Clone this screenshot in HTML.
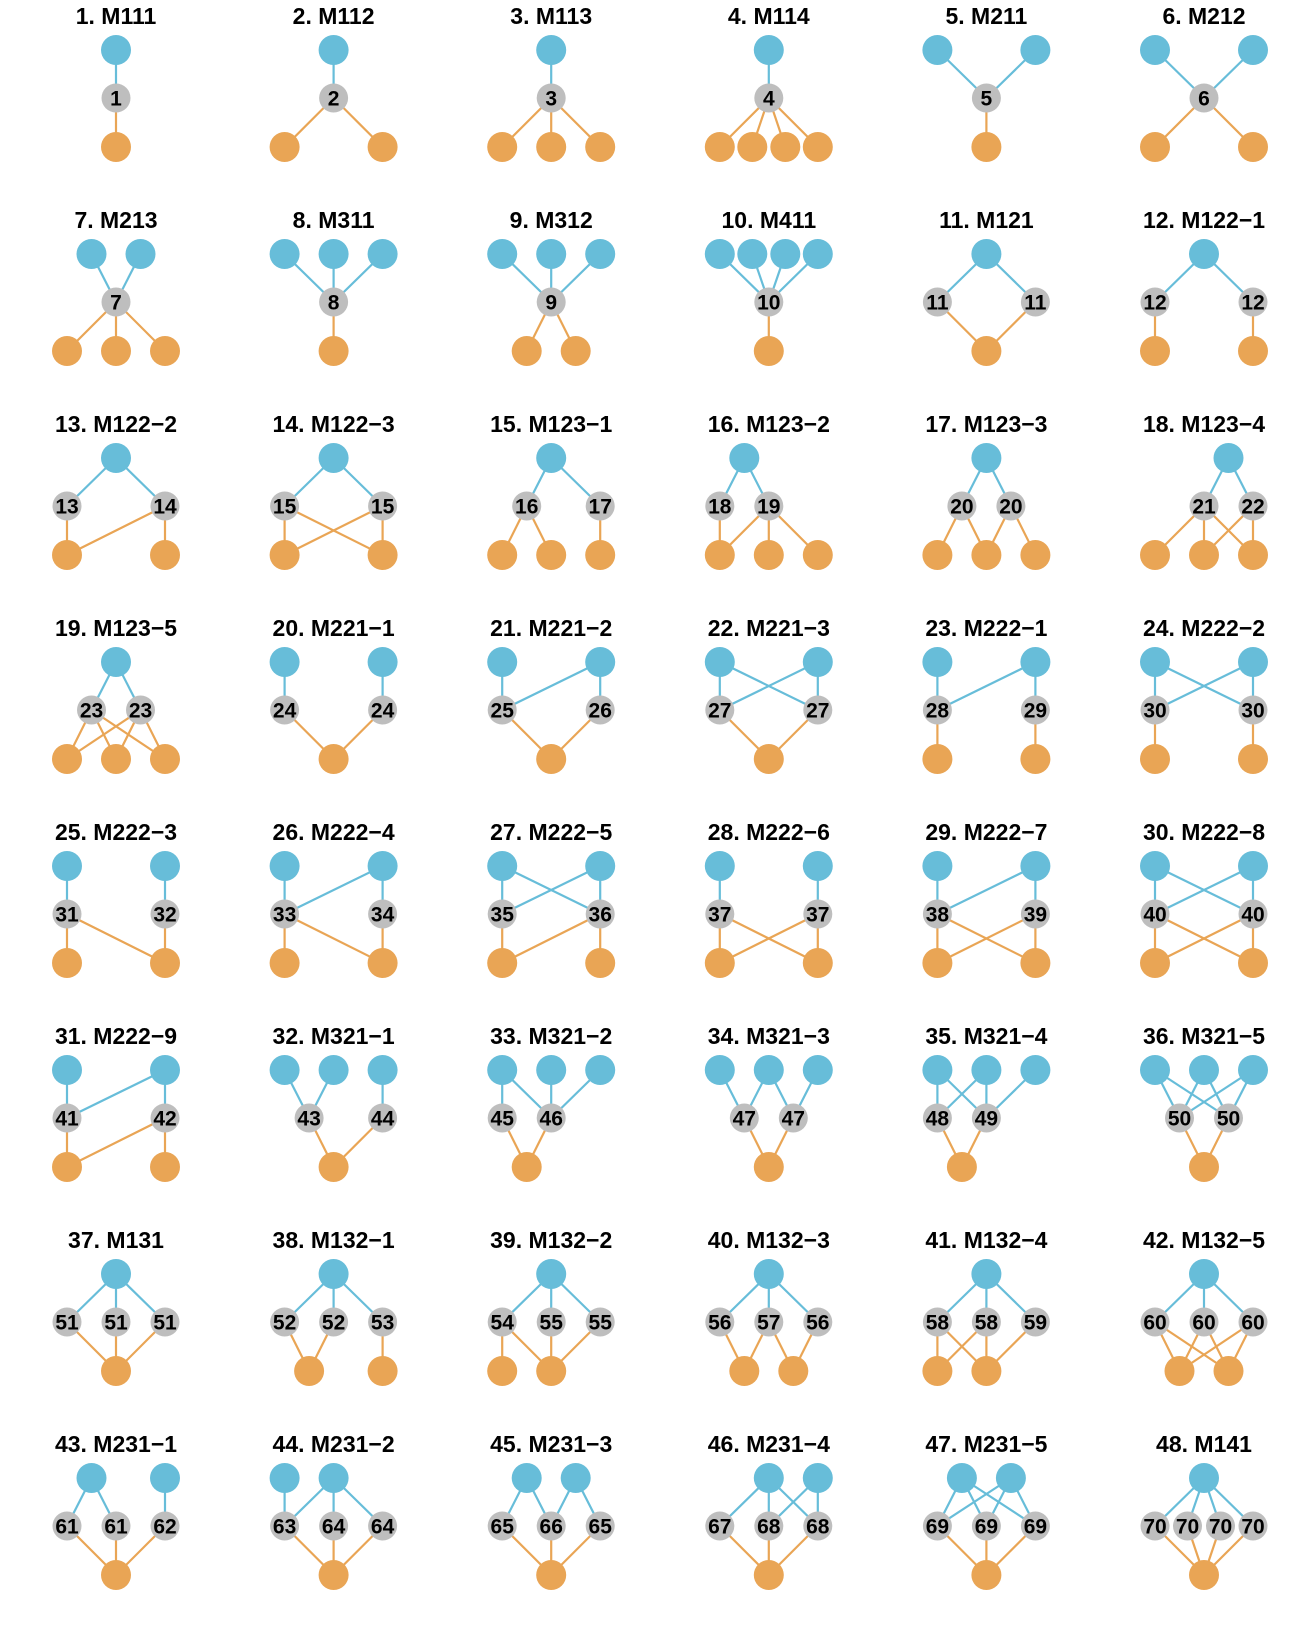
<!DOCTYPE html>
<html><head><meta charset="utf-8"><style>
html,body{margin:0;padding:0;background:#fff}
svg{display:block}
.t{font:bold 23px "Liberation Sans",sans-serif;text-anchor:middle;fill:#000}
.l{font:bold 21px "Liberation Sans",sans-serif;text-anchor:middle;fill:#000}
</style></head><body>
<svg id="s" width="1306" height="1633" viewBox="0 0 1306 1633" xmlns="http://www.w3.org/2000/svg">
<g id="shapes"></g>
<g id="txt">
<g transform="translate(116,0)"><text class="t" y="24">1. M111</text><text class="l" x="0" y="105.5">1</text></g>
<g transform="translate(333.6,0)"><text class="t" y="24">2. M112</text><text class="l" x="0" y="105.5">2</text></g>
<g transform="translate(551.2,0)"><text class="t" y="24">3. M113</text><text class="l" x="0" y="105.5">3</text></g>
<g transform="translate(768.8,0)"><text class="t" y="24">4. M114</text><text class="l" x="0" y="105.5">4</text></g>
<g transform="translate(986.4,0)"><text class="t" y="24">5. M211</text><text class="l" x="0" y="105.5">5</text></g>
<g transform="translate(1204,0)"><text class="t" y="24">6. M212</text><text class="l" x="0" y="105.5">6</text></g>

<g transform="translate(116,204)"><text class="t" y="24">7. M213</text><text class="l" x="0" y="105.5">7</text></g>
<g transform="translate(333.6,204)"><text class="t" y="24">8. M311</text><text class="l" x="0" y="105.5">8</text></g>
<g transform="translate(551.2,204)"><text class="t" y="24">9. M312</text><text class="l" x="0" y="105.5">9</text></g>
<g transform="translate(768.8,204)"><text class="t" y="24">10. M411</text><text class="l" x="0" y="105.5">10</text></g>
<g transform="translate(986.4,204)"><text class="t" y="24">11. M121</text><text class="l" x="-49" y="105.5">11</text><text class="l" x="49" y="105.5">11</text></g>
<g transform="translate(1204,204)"><text class="t" y="24">12. M122−1</text><text class="l" x="-49" y="105.5">12</text><text class="l" x="49" y="105.5">12</text></g>

<g transform="translate(116,408)"><text class="t" y="24">13. M122−2</text><text class="l" x="-49" y="105.5">13</text><text class="l" x="49" y="105.5">14</text></g>
<g transform="translate(333.6,408)"><text class="t" y="24">14. M122−3</text><text class="l" x="-49" y="105.5">15</text><text class="l" x="49" y="105.5">15</text></g>
<g transform="translate(551.2,408)"><text class="t" y="24">15. M123−1</text><text class="l" x="-24.5" y="105.5">16</text><text class="l" x="49" y="105.5">17</text></g>
<g transform="translate(768.8,408)"><text class="t" y="24">16. M123−2</text><text class="l" x="-49" y="105.5">18</text><text class="l" x="0" y="105.5">19</text></g>
<g transform="translate(986.4,408)"><text class="t" y="24">17. M123−3</text><text class="l" x="-24.5" y="105.5">20</text><text class="l" x="24.5" y="105.5">20</text></g>
<g transform="translate(1204,408)"><text class="t" y="24">18. M123−4</text><text class="l" x="0" y="105.5">21</text><text class="l" x="49" y="105.5">22</text></g>

<g transform="translate(116,612)"><text class="t" y="24">19. M123−5</text><text class="l" x="-24.5" y="105.5">23</text><text class="l" x="24.5" y="105.5">23</text></g>
<g transform="translate(333.6,612)"><text class="t" y="24">20. M221−1</text><text class="l" x="-49" y="105.5">24</text><text class="l" x="49" y="105.5">24</text></g>
<g transform="translate(551.2,612)"><text class="t" y="24">21. M221−2</text><text class="l" x="-49" y="105.5">25</text><text class="l" x="49" y="105.5">26</text></g>
<g transform="translate(768.8,612)"><text class="t" y="24">22. M221−3</text><text class="l" x="-49" y="105.5">27</text><text class="l" x="49" y="105.5">27</text></g>
<g transform="translate(986.4,612)"><text class="t" y="24">23. M222−1</text><text class="l" x="-49" y="105.5">28</text><text class="l" x="49" y="105.5">29</text></g>
<g transform="translate(1204,612)"><text class="t" y="24">24. M222−2</text><text class="l" x="-49" y="105.5">30</text><text class="l" x="49" y="105.5">30</text></g>

<g transform="translate(116,816)"><text class="t" y="24">25. M222−3</text><text class="l" x="-49" y="105.5">31</text><text class="l" x="49" y="105.5">32</text></g>
<g transform="translate(333.6,816)"><text class="t" y="24">26. M222−4</text><text class="l" x="-49" y="105.5">33</text><text class="l" x="49" y="105.5">34</text></g>
<g transform="translate(551.2,816)"><text class="t" y="24">27. M222−5</text><text class="l" x="-49" y="105.5">35</text><text class="l" x="49" y="105.5">36</text></g>
<g transform="translate(768.8,816)"><text class="t" y="24">28. M222−6</text><text class="l" x="-49" y="105.5">37</text><text class="l" x="49" y="105.5">37</text></g>
<g transform="translate(986.4,816)"><text class="t" y="24">29. M222−7</text><text class="l" x="-49" y="105.5">38</text><text class="l" x="49" y="105.5">39</text></g>
<g transform="translate(1204,816)"><text class="t" y="24">30. M222−8</text><text class="l" x="-49" y="105.5">40</text><text class="l" x="49" y="105.5">40</text></g>

<g transform="translate(116,1020)"><text class="t" y="24">31. M222−9</text><text class="l" x="-49" y="105.5">41</text><text class="l" x="49" y="105.5">42</text></g>
<g transform="translate(333.6,1020)"><text class="t" y="24">32. M321−1</text><text class="l" x="-24.5" y="105.5">43</text><text class="l" x="49" y="105.5">44</text></g>
<g transform="translate(551.2,1020)"><text class="t" y="24">33. M321−2</text><text class="l" x="-49" y="105.5">45</text><text class="l" x="0" y="105.5">46</text></g>
<g transform="translate(768.8,1020)"><text class="t" y="24">34. M321−3</text><text class="l" x="-24.5" y="105.5">47</text><text class="l" x="24.5" y="105.5">47</text></g>
<g transform="translate(986.4,1020)"><text class="t" y="24">35. M321−4</text><text class="l" x="-49" y="105.5">48</text><text class="l" x="0" y="105.5">49</text></g>
<g transform="translate(1204,1020)"><text class="t" y="24">36. M321−5</text><text class="l" x="-24.5" y="105.5">50</text><text class="l" x="24.5" y="105.5">50</text></g>

<g transform="translate(116,1224)"><text class="t" y="24">37. M131</text><text class="l" x="-49" y="105.5">51</text><text class="l" x="0" y="105.5">51</text><text class="l" x="49" y="105.5">51</text></g>
<g transform="translate(333.6,1224)"><text class="t" y="24">38. M132−1</text><text class="l" x="-49" y="105.5">52</text><text class="l" x="0" y="105.5">52</text><text class="l" x="49" y="105.5">53</text></g>
<g transform="translate(551.2,1224)"><text class="t" y="24">39. M132−2</text><text class="l" x="-49" y="105.5">54</text><text class="l" x="0" y="105.5">55</text><text class="l" x="49" y="105.5">55</text></g>
<g transform="translate(768.8,1224)"><text class="t" y="24">40. M132−3</text><text class="l" x="-49" y="105.5">56</text><text class="l" x="0" y="105.5">57</text><text class="l" x="49" y="105.5">56</text></g>
<g transform="translate(986.4,1224)"><text class="t" y="24">41. M132−4</text><text class="l" x="-49" y="105.5">58</text><text class="l" x="0" y="105.5">58</text><text class="l" x="49" y="105.5">59</text></g>
<g transform="translate(1204,1224)"><text class="t" y="24">42. M132−5</text><text class="l" x="-49" y="105.5">60</text><text class="l" x="0" y="105.5">60</text><text class="l" x="49" y="105.5">60</text></g>

<g transform="translate(116,1428)"><text class="t" y="24">43. M231−1</text><text class="l" x="-49" y="105.5">61</text><text class="l" x="0" y="105.5">61</text><text class="l" x="49" y="105.5">62</text></g>
<g transform="translate(333.6,1428)"><text class="t" y="24">44. M231−2</text><text class="l" x="-49" y="105.5">63</text><text class="l" x="0" y="105.5">64</text><text class="l" x="49" y="105.5">64</text></g>
<g transform="translate(551.2,1428)"><text class="t" y="24">45. M231−3</text><text class="l" x="-49" y="105.5">65</text><text class="l" x="0" y="105.5">66</text><text class="l" x="49" y="105.5">65</text></g>
<g transform="translate(768.8,1428)"><text class="t" y="24">46. M231−4</text><text class="l" x="-49" y="105.5">67</text><text class="l" x="0" y="105.5">68</text><text class="l" x="49" y="105.5">68</text></g>
<g transform="translate(986.4,1428)"><text class="t" y="24">47. M231−5</text><text class="l" x="-49" y="105.5">69</text><text class="l" x="0" y="105.5">69</text><text class="l" x="49" y="105.5">69</text></g>
<g transform="translate(1204,1428)"><text class="t" y="24">48. M141</text><text class="l" x="-49" y="105.5">70</text><text class="l" x="-16.5" y="105.5">70</text><text class="l" x="16.5" y="105.5">70</text><text class="l" x="49" y="105.5">70</text></g>
</g>
</svg>
<script>
var A=49,H=24.5,Q=16.5;
var D=[
[[0],[0],[0],"all","all"],
[[0],[0],[-A,A],"all","all"],
[[0],[0],[-A,0,A],"all","all"],
[[0],[0],[-A,-Q,Q,A],"all","all"],
[[-A,A],[0],[0],"all","all"],
[[-A,A],[0],[-A,A],"all","all"],
[[-H,H],[0],[-A,0,A],"all","all"],
[[-A,0,A],[0],[0],"all","all"],
[[-A,0,A],[0],[-H,H],"all","all"],
[[-A,-Q,Q,A],[0],[0],"all","all"],
[[0],[-A,A],[0],"all","all"],
[[0],[-A,A],[-A,A],"all","00 11"],
[[0],[-A,A],[-A,A],"all","00 11 10"],
[[0],[-A,A],[-A,A],"all","all"],
[[0],[-H,A],[-A,0,A],"all","00 01 12"],
[[-H],[-A,0],[-A,0,A],"all","00 10 11 12"],
[[0],[-H,H],[-A,0,A],"all","00 01 11 12"],
[[H],[0,A],[-A,0,A],"all","00 01 02 11 12"],
[[0],[-H,H],[-A,0,A],"all","all"],
[[-A,A],[-A,A],[0],"00 11","all"],
[[-A,A],[-A,A],[0],"00 11 10","all"],
[[-A,A],[-A,A],[0],"all","all"],
[[-A,A],[-A,A],[-A,A],"00 11 10","00 11"],
[[-A,A],[-A,A],[-A,A],"all","00 11"],
[[-A,A],[-A,A],[-A,A],"00 11","00 11 01"],
[[-A,A],[-A,A],[-A,A],"00 11 10","00 11 01"],
[[-A,A],[-A,A],[-A,A],"all","00 11 10"],
[[-A,A],[-A,A],[-A,A],"00 11","all"],
[[-A,A],[-A,A],[-A,A],"00 11 10","all"],
[[-A,A],[-A,A],[-A,A],"all","all"],
[[-A,A],[-A,A],[-A,A],"00 11 10","00 11 10"],
[[-A,0,A],[-H,A],[0],"00 10 21","all"],
[[-A,0,A],[-A,0],[-H],"00 01 11 21","all"],
[[-A,0,A],[-H,H],[0],"00 10 11 21","all"],
[[-A,0,A],[-A,0],[-H],"00 10 01 11 21","all"],
[[-A,0,A],[-H,H],[0],"all","all"],
[[0],[-A,0,A],[0],"all","all"],
[[0],[-A,0,A],[-H,A],"all","00 10 21"],
[[0],[-A,0,A],[-A,0],"all","00 01 11 21"],
[[0],[-A,0,A],[-H,H],"all","00 10 11 21"],
[[0],[-A,0,A],[-A,0],"all","00 01 10 11 21"],
[[0],[-A,0,A],[-H,H],"all","all"],
[[-H,A],[-A,0,A],[0],"00 01 12","all"],
[[-A,0],[-A,0,A],[0],"00 10 11 12","all"],
[[-H,H],[-A,0,A],[0],"00 01 11 12","all"],
[[0,A],[-A,0,A],[0],"00 01 02 11 12","all"],
[[-H,H],[-A,0,A],[0],"all","all"],
[[0],[-A,-Q,Q,A],[0],"all","all"]
];
var NS="http://www.w3.org/2000/svg",G=document.getElementById("shapes");
function el(n,a){var e=document.createElementNS(NS,n);for(var k in a)e.setAttribute(k,a[k]);G.appendChild(e);}
function pairs(s,a,b){var r=[];if(s=="all"){for(var i=0;i<a;i++)for(var j=0;j<b;j++)r.push([i,j]);}else s.split(" ").forEach(function(p){r.push([+p[0],+p[1]]);});return r;}
var BL="#67bdd9",OR="#e9a555",GR="#bebebe",YT=50,YM=98,YB=147;
var circ=[];
D.forEach(function(d,k){
 var cx=116+217.6*(k%6),cy=204*Math.floor(k/6);
 pairs(d[3],d[0].length,d[1].length).forEach(function(p){el("line",{x1:cx+d[0][p[0]],y1:cy+YT,x2:cx+d[1][p[1]],y2:cy+YM,stroke:BL,"stroke-width":2.2});});
 pairs(d[4],d[1].length,d[2].length).forEach(function(p){el("line",{x1:cx+d[1][p[0]],y1:cy+YM,x2:cx+d[2][p[1]],y2:cy+YB,stroke:OR,"stroke-width":2.2});});
 d[0].forEach(function(x){circ.push([cx+x,cy+YT,15,BL]);});
 d[1].forEach(function(x){circ.push([cx+x,cy+YM,14.5,GR]);});
 d[2].forEach(function(x){circ.push([cx+x,cy+YB,15,OR]);});
});
circ.forEach(function(c){el("circle",{cx:c[0],cy:c[1],r:c[2],fill:c[3]});});
</script>
</body></html>
